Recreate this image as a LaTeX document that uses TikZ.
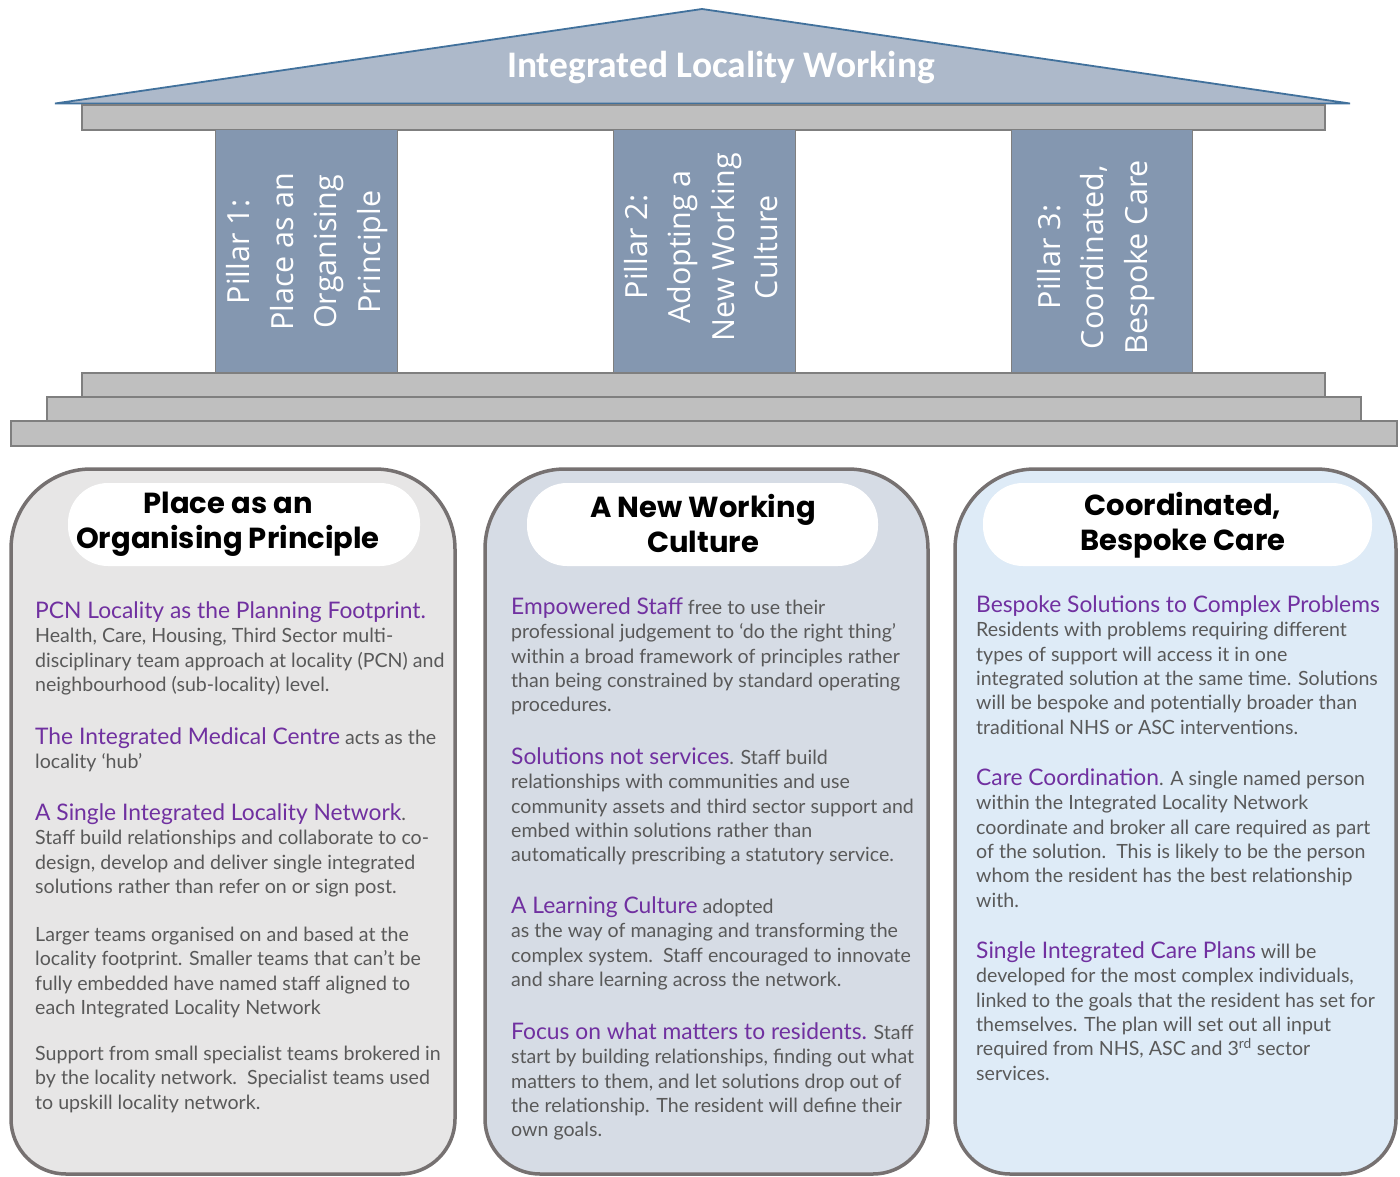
\documentclass[tikz,border=0pt]{standalone}
\usepackage{fontspec}
\setmainfont{Lato}
\newfontfamily\bodyfont{Lato}
\newfontfamily\titlefont{Carlito}
\newfontfamily\pillarfont{Open Sans}
\newfontfamily\headfont{Poppins}
\definecolor{roofc}{HTML}{ADB9CA}
\definecolor{roofline}{HTML}{41719C}
\definecolor{stonec}{HTML}{BFBFBF}
\definecolor{stoneline}{HTML}{7F7F7F}
\definecolor{pillarc}{HTML}{8497B0}
\definecolor{panelA}{HTML}{E7E6E6}
\definecolor{panelB}{HTML}{D6DCE5}
\definecolor{panelC}{HTML}{DEEBF7}
\definecolor{panelline}{HTML}{767171}
\definecolor{hlpurple}{HTML}{7030A0}
\definecolor{bodygray}{HTML}{595959}
\newcommand\hl[1]{{\color{hlpurple}\fontsize{22.8}{24.4}\selectfont #1}}
\newcommand\fst{\rule{0pt}{22pt}}
\tikzset{
  stone/.style={fill=stonec, draw=stoneline, line width=1.5pt},
  pillar/.style={fill=pillarc, draw=stoneline, line width=1pt},
  pillartext/.style={rotate=90, align=center, text=white, inner sep=0pt,
     font=\pillarfont\fontsize{30.5}{43.5}\selectfont},
  panel/.style={line width=3.5pt, draw=panelline},
  headbox/.style={fill=white, rounded corners=40pt},
  headtext/.style={anchor=north, align=center, inner sep=0pt, text=black,
     font=\headfont\bfseries\fontsize{29}{35}\selectfont},
  bodytext/.style={anchor=north west, align=left, inner sep=0pt, text=bodygray,
     font=\bodyfont\fontsize{19.6}{24.4}\selectfont},
}
\begin{document}
\begin{tikzpicture}[x=1pt,y=-1pt]
\useasboundingbox (0,0) rectangle (1400,1177);
\fill[white] (0,0) rectangle (1400,1177);
% roof
\draw[fill=roofc, draw=roofline, line width=1.8pt, line join=miter]
  (55,103.5) -- (702,9) -- (1350,103.5) -- cycle;
\node[anchor=base, text=white, inner sep=0pt, font=\titlefont\bfseries\fontsize{37.5}{40}\selectfont]
  (title) at (721,78) {Integrated Locality Working};
% entablature
\draw[stone] (82,105) rectangle (1325,130);
% pillars
\draw[pillar] (215,130) rectangle (397,373);
\draw[pillar] (613,130) rectangle (795,373);
\draw[pillar] (1011,130) rectangle (1192,373);
\node[pillartext] (p1) at (307,252) {Pillar 1:\\Place as an\\Organising\\Principle};
\node[pillartext] (p2) at (701,247) {Pillar 2:\\Adopting a\\New Working\\Culture};
\node[pillartext] (p3) at (1096,257) {Pillar 3:\\Coordinated,\\Bespoke Care};
% steps
\draw[stone] (82,373) rectangle (1325,397);
\draw[stone] (47,397) rectangle (1361,421);
\draw[stone] (11,421) rectangle (1397,446);
% panels
\draw[panel, fill=panelA] (11,800) [rounded corners=80pt] -- (11,469) -- (455,469) -- (455,800)
   [rounded corners=55pt] -- (455,1174) -- (11,1174) -- cycle;
\draw[panel, fill=panelB] (485,800) [rounded corners=80pt] -- (485,469) -- (928,469) -- (928,800)
   [rounded corners=55pt] -- (928,1174) -- (485,1174) -- cycle;
\draw[panel, fill=panelC] (955,800) [rounded corners=80pt] -- (955,469) -- (1396,469) -- (1396,800)
   [rounded corners=55pt] -- (1396,1174) -- (955,1174) -- cycle;
% heading boxes
\fill[headbox] (68,483) rectangle (420,566);
\fill[headbox] (527,483) rectangle (878,566);
\fill[headbox] (983,483) rectangle (1372,566);
\node[headtext] (h1) at (228,488) {\rule{0pt}{25pt}Place as an\\Organising Principle};
\node[headtext] (h2) at (703,492) {\rule{0pt}{25pt}A New Working\\Culture};
\node[headtext] (h3) at (1183,490) {\rule{0pt}{25pt}Coordinated,\\Bespoke Care};
% panel 1 text
\node[bodytext] (a1) at (35,596) {\fst\hl{PCN Locality as the Planning Footprint.}\\
Health, Care, Housing, Third Sector multi-\\
disciplinary team approach at locality (PCN) and\\
neighbourhood (sub-locality) level.};
\node[bodytext] (a2) at (35,722) {\fst\hl{The Integrated Medical Centre} acts as the\\
locality ‘hub’};
\node[bodytext] (a3) at (35,798) {\fst\hl{A Single Integrated Locality Network}.\\
Staff build relationships and collaborate to co-\\
design, develop and deliver single integrated\\
solutions rather than refer on or sign post.};
\node[bodytext] (a4) at (35,919) {\fst Larger teams organised on and based at the\\
locality footprint. Smaller teams that can’t be\\
fully embedded have named staff aligned to\\
each Integrated Locality Network};
\node[bodytext] (a5) at (35,1038) {\fst Support from small specialist teams brokered in\\
by the locality network.\ \ Specialist teams used\\
to upskill locality network.};
% panel 2 text
\node[bodytext] (b1) at (511,592) {\fst\hl{Empowered Staff} free to use their\\
professional judgement to ‘do the right thing’\\
within a broad framework of principles rather\\
than being constrained by standard operating\\
procedures.};
\node[bodytext] (b2) at (511,742) {\fst\hl{Solutions not services}. Staff build\\
relationships with communities and use\\
community assets and third sector support and\\
embed within solutions rather than\\
automatically prescribing a statutory service.};
\node[bodytext] (b3) at (511,891) {\fst\hl{A Learning Culture} adopted\\
as the way of managing and transforming the\\
complex system.\ \ Staff encouraged to innovate\\
and share learning across the network.};
\node[bodytext] (b4) at (511,1017) {\fst\hl{Focus on what matters to residents.} Staff\\
start by building relationships, finding out what\\
matters to them, and let solutions drop out of\\
the relationship. The resident will define their\\
own goals.};
% panel 3 text
\node[bodytext] (c1) at (976,590) {\fst\hl{Bespoke Solutions to Complex Problems}\\
Residents with problems requiring different\\
types of support will access it in one\\
integrated solution at the same time. Solutions\\
will be bespoke and potentially broader than\\
traditional NHS or ASC interventions.};
\node[bodytext] (c2) at (976,763) {\fst\hl{Care Coordination}. A single named person\\
within the Integrated Locality Network\\
coordinate and broker all care required as part\\
of the solution.\ \ This is likely to be the person\\
whom the resident has the best relationship\\
with.};
\node[bodytext] (c3) at (976,936) {\fst\hl{Single Integrated Care Plans} will be\\
developed for the most complex individuals,\\
linked to the goals that the resident has set for\\
themselves. The plan will set out all input\\
required from NHS, ASC and 3\textsuperscript{rd} sector\\
services.};
\end{tikzpicture}
\end{document}
